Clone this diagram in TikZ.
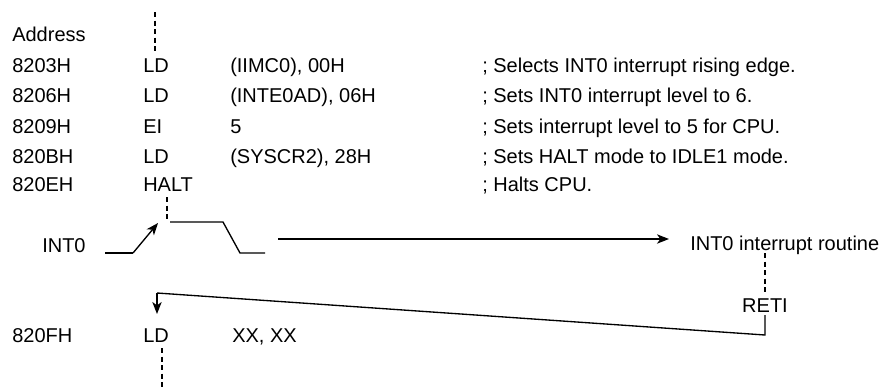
\documentclass[tikz,border=0pt]{standalone}
\usepackage{fontspec}
\setmainfont{Liberation Sans}
\usetikzlibrary{arrows.meta}
\begin{document}
\begin{tikzpicture}[x=0.75pt,y=-0.75pt,
  lbl/.style={anchor=base west, inner sep=0pt, font=\fontsize{15}{18}\selectfont},
  clbl/.style={anchor=base, inner sep=0pt, font=\fontsize{15}{18}\selectfont},
  wire/.style={line width=1pt},
  dsh/.style={line width=1pt, dash pattern=on 4pt off 2.4pt},
  arr/.style={wire,-{Stealth[length=9pt,width=7pt,inset=2.5pt]}}]
\useasboundingbox (0,0) rectangle (884,387);
% code listing
\node[lbl] (addr) at (12,41) {Address};
\node[lbl] (a1) at (12,72) {8203H};
\node[lbl] (m1) at (143,72) {LD};
\node[lbl] (o1) at (230,72) {(IIMC0), 00H};
\node[lbl] (c1) at (482,72) {; Selects INT0 interrupt rising edge.};
\node[lbl] (a2) at (12,102) {8206H};
\node[lbl] (m2) at (143,102) {LD};
\node[lbl] (o2) at (230,102) {(INTE0AD), 06H};
\node[lbl] (c2) at (482,102) {; Sets INT0 interrupt level to 6.};
\node[lbl] (a3) at (12,133) {8209H};
\node[lbl] (m3) at (143,133) {EI};
\node[lbl] (o3) at (230,133) {5};
\node[lbl] (c3) at (482,133) {; Sets interrupt level to 5 for CPU.};
\node[lbl] (a4) at (12,163) {820BH};
\node[lbl] (m4) at (143,163) {LD};
\node[lbl] (o4) at (230,163) {(SYSCR2), 28H};
\node[lbl] (c4) at (482,163) {; Sets HALT mode to IDLE1 mode.};
\node[lbl] (a5) at (12,191) {820EH};
\node[lbl] (m5) at (143,191) {HALT};
\node[lbl] (c5) at (482,191) {; Halts CPU.};
\node[lbl] (int0) at (42,252) {INT0};
\node[lbl] (isr) at (690,250) {INT0 interrupt routine};
\node[clbl] (reti) at (765,312) {RETI};
\node[lbl] (a6) at (12,342) {820FH};
\node[lbl] (m6) at (143,342) {LD};
\node[lbl] (o6) at (232,342) {XX, XX};
% coordinates
\coordinate (d1a) at (155,12);
\coordinate (d1b) at (155,52);
\coordinate (d2a) at (167,197);
\coordinate (d2b) at (167,219);
\coordinate (d3a) at (765,253);
\coordinate (d3b) at (765,293);
\coordinate (d4a) at (162,348);
\coordinate (d4b) at (162,387);
\coordinate (w1) at (105,253);
\coordinate (w2) at (133,253);
\coordinate (w3) at (158,223);
\coordinate (w4) at (170,222);
\coordinate (w5) at (223,222);
\coordinate (w6) at (240,253);
\coordinate (w7) at (265,253);
\coordinate (g1) at (278,239);
\coordinate (g2) at (669,239);
\coordinate (r1) at (765,315);
\coordinate (r2) at (765,335);
\coordinate (r3) at (157,293);
\coordinate (r4) at (157,314);
% dashed flow lines
\draw[dsh] (d1a) -- (d1b);
\draw[dsh] (d2a) -- (d2b);
\draw[dsh] (d3a) -- (d3b);
\draw[dsh] (d4a) -- (d4b);
% waveform
\draw[wire] (w1) -- (w2);
\draw[arr] (w2) -- (w3);
\draw[wire] (w4) -- (w5) -- (w6) -- (w7);
\draw[arr] (g1) -- (g2);
% return path
\draw[wire] (r1) -- (r2) -- (r3);
\draw[arr] (r3) -- (r4);
\end{tikzpicture}
\end{document}
